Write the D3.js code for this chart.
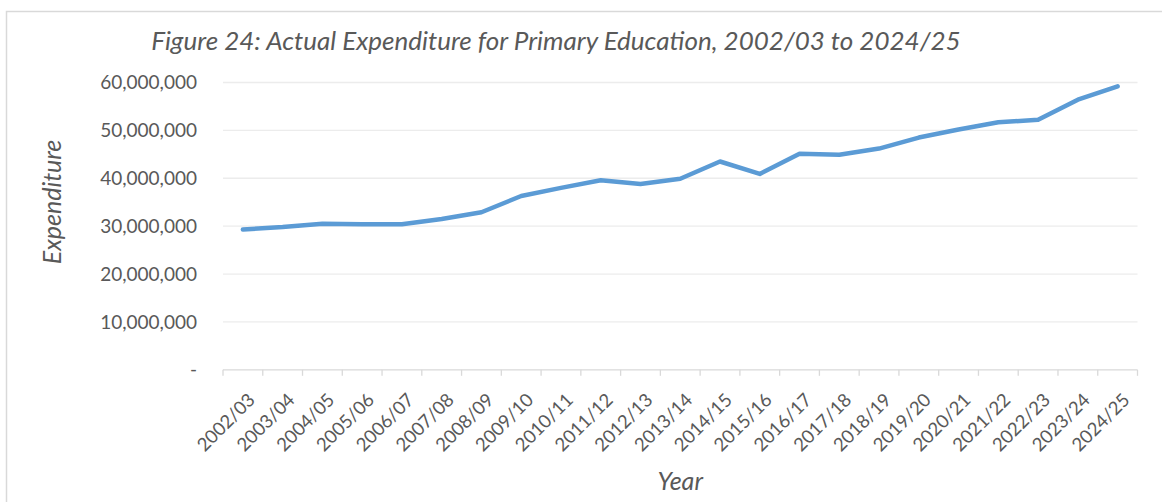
<!DOCTYPE html>
<html>
<head>
<meta charset="utf-8">
<script src="https://cdn.jsdelivr.net/npm/d3@7"></script>
<style>
  html, body { margin: 0; padding: 0; background: #fff; }
  svg { display: block; }
  text { font-family: Lato, "Open Sans", sans-serif; fill: #595959; }
</style>
</head>
<body>
<svg id="chart" width="1162" height="502"></svg>
<script>
const categories = ["2002/03","2003/04","2004/05","2005/06","2006/07","2007/08","2008/09","2009/10","2010/11","2011/12","2012/13","2013/14","2014/15","2015/16","2016/17","2017/18","2018/19","2019/20","2020/21","2021/22","2022/23","2023/24","2024/25"];
const expenditure = [29300000, 29800000, 30500000, 30400000, 30400000, 31500000, 32900000, 36300000, 38000000, 39600000, 38800000, 39900000, 43500000, 40900000, 45100000, 44900000, 46200000, 48500000, 50200000, 51700000, 52200000, 56400000, 59200000];
const yTicks = [0, 10000000, 20000000, 30000000, 40000000, 50000000, 60000000];
const titleText = "Figure 24: Actual Expenditure for Primary Education, 2002/03 to 2024/25";
const xTitle = "Year";
const yTitle = "Expenditure";

const svg = d3.select("#chart");
const margin = { left: 223, right: 1162 - 1137.5, top: 82.5, bottom: 502 - 369.8 };
const W = 1162, H = 502;

// outer border
svg.append("rect")
  .attr("x", 6.5).attr("y", 11.5)
  .attr("width", 1300).attr("height", 700)
  .attr("fill", "none").attr("stroke", "#d9d9d9").attr("stroke-width", 1.5);

const x = d3.scaleBand().domain(categories)
  .range([margin.left, W - margin.right]).paddingInner(0).paddingOuter(0);
const y = d3.scaleLinear().domain([0, 60000000]).range([H - margin.bottom, margin.top]);

// gridlines
svg.append("g").selectAll("line").data(yTicks.filter(d => d > 0)).join("line")
  .attr("x1", margin.left).attr("x2", W - margin.right)
  .attr("y1", d => y(d)).attr("y2", d => y(d))
  .attr("stroke", "#ececec").attr("stroke-width", 1.3);

// y axis labels
const fmt = d3.format(",");
svg.append("g").selectAll("text").data(yTicks).join("text")
  .attr("x", 197).attr("y", d => y(d))
  .attr("dy", "0.35em")
  .attr("text-anchor", "end")
  .style("font-size", "19px")
  .text(d => d === 0 ? "-" : fmt(d));

// x axis line and ticks
const xAxisY = y(0);
svg.append("line")
  .attr("x1", margin.left).attr("x2", W - margin.right)
  .attr("y1", xAxisY).attr("y2", xAxisY)
  .attr("stroke", "#d9d9d9").attr("stroke-width", 1.3);
const boundaries = categories.map(c => x(c)).concat([x(categories[categories.length - 1]) + x.bandwidth()]);
svg.append("g").selectAll("line").data(boundaries).join("line")
  .attr("x1", d => d).attr("x2", d => d)
  .attr("y1", xAxisY).attr("y2", xAxisY + 6)
  .attr("stroke", "#d9d9d9").attr("stroke-width", 1.3);

// x labels rotated
svg.append("g").selectAll("text").data(categories).join("text")
  .attr("transform", d => `translate(${x(d) + x.bandwidth() / 2 + 4},${xAxisY + 22}) rotate(-45)`)
  .attr("dy", "0.71em")
  .attr("text-anchor", "end")
  .style("font-size", "18.5px")
  .text(d => d);

// line
const line = d3.line()
  .x((d, i) => x(categories[i]) + x.bandwidth() / 2)
  .y(d => y(d));
svg.append("path").datum(expenditure)
  .attr("d", line)
  .attr("fill", "none")
  .attr("stroke", "#5b9bd5")
  .attr("stroke-width", 4.5)
  .attr("stroke-linejoin", "round")
  .attr("stroke-linecap", "round");

// title
svg.append("text")
  .attr("x", 556).attr("y", 50)
  .attr("text-anchor", "middle")
  .style("font-size", "26px").style("font-style", "italic")
  .text(titleText);

// axis titles
svg.append("text")
  .attr("x", (margin.left + W - margin.right) / 2).attr("y", 490)
  .attr("text-anchor", "middle")
  .style("font-size", "25px").style("font-style", "italic")
  .text(xTitle);

svg.append("text")
  .attr("transform", "translate(61,202) rotate(-90)")
  .attr("text-anchor", "middle")
  .style("font-size", "25px").style("font-style", "italic")
  .text(yTitle);
</script>
</body>
</html>
